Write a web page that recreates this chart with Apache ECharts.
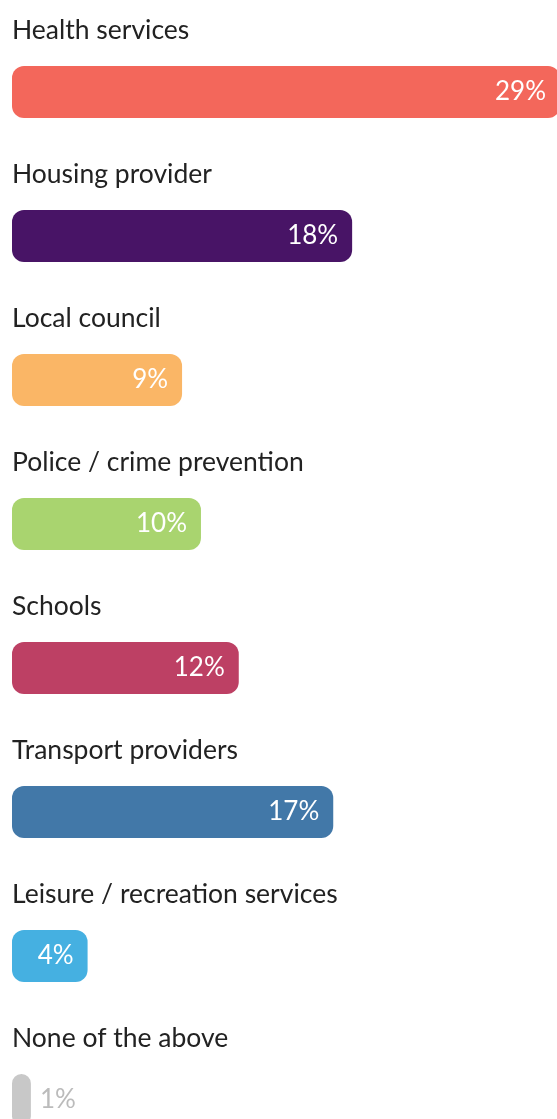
<!DOCTYPE html>
<html>
<head>
<meta charset="utf-8">
<script src="https://cdn.jsdelivr.net/npm/echarts@6/dist/echarts.min.js"></script>
<style>
  html, body { margin: 0; padding: 0; background: #ffffff; overflow: hidden; }
  /* the chart is larger than the page; the widest bar and the last row run past the edges */
  #chart { width: 560px; height: 1172px; }
</style>
</head>
<body>
<div id="chart"></div>
<script>
// Share of respondents naming each service
const categories = [
  'Health services',
  'Housing provider',
  'Local council',
  'Police / crime prevention',
  'Schools',
  'Transport providers',
  'Leisure / recreation services',
  'None of the above'
];
const values = [29, 18, 9, 10, 12, 17, 4, 1];
const colors = ['#F3675B', '#481466', '#FAB666', '#A9D46F', '#BD4064', '#4278A8', '#45B0E1', '#C8C8C8'];

const FONT = 'Lato';

const chart = echarts.init(document.getElementById('chart'), null, { renderer: 'canvas' });

chart.setOption({
  animation: false,
  backgroundColor: '#ffffff',
  grid: { left: 12, right: 0, top: 20, bottom: 0, containLabel: false },
  xAxis: {
    type: 'value',
    min: 0,
    max: 29,
    show: false
  },
  yAxis: {
    type: 'category',
    data: categories,
    inverse: true,
    axisLine: { show: false },
    axisTick: { show: false },
    splitLine: { show: false },
    axisLabel: {
      inside: true,
      margin: 0,
      align: 'left',
      verticalAlign: 'bottom',
      padding: [0, 0, 48, 0],
      color: '#222222',
      fontFamily: FONT,
      fontSize: 26.5
    }
  },
  series: [{
    type: 'bar',
    barWidth: 52,
    data: values.map((v, i) => {
      const last = i === values.length - 1;
      return {
        value: v,
        itemStyle: { color: colors[i], borderRadius: 12 },
        label: last
          ? { position: 'right', distance: 9, color: '#BBBBBB' }
          : { position: 'insideRight', distance: 14, color: '#ffffff' }
      };
    }),
    label: {
      show: true,
      formatter: '{c}%',
      fontFamily: FONT,
      fontSize: 26
    }
  }]
});
</script>
</body>
</html>
